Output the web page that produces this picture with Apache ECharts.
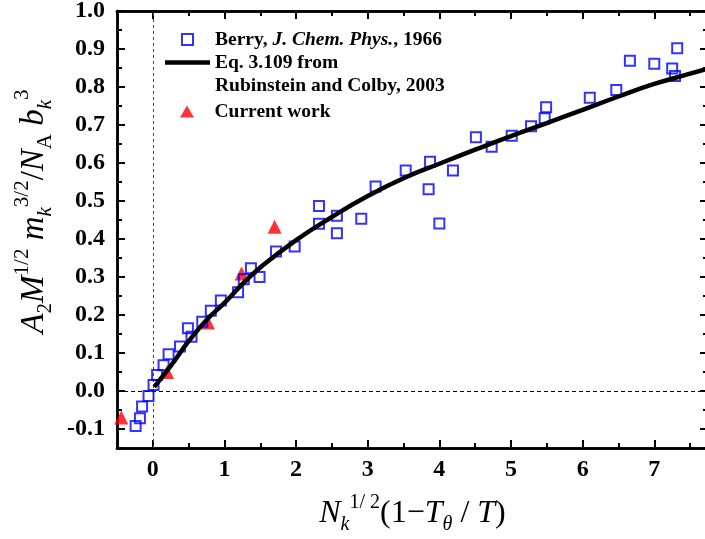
<!DOCTYPE html>
<html><head><meta charset="utf-8">
<script src="https://cdn.jsdelivr.net/npm/echarts@6/dist/echarts.min.js"></script>
<style>html,body{margin:0;padding:0;background:#fff}#c{width:705px;height:539px}</style>
</head><body><div id="c"></div>
<script>
const berryX = [-0.24,-0.18,-0.15,-0.06,0.01,0.06,0.15,0.22,0.38,0.49,0.54,0.69,0.81,0.95,1.19,1.27,1.37,1.49,1.72,1.98,2.32,2.32,2.57,2.57,2.91,3.11,3.53,3.87,3.85,4.00,4.19,4.51,4.73,5.01,5.28,5.47,5.49,6.10,6.47,6.66,7.00,7.25,7.29,7.32];
const berryY = [-0.092,-0.072,-0.041,-0.013,0.016,0.042,0.068,0.097,0.117,0.165,0.143,0.182,0.211,0.238,0.260,0.294,0.323,0.300,0.367,0.380,0.487,0.440,0.461,0.415,0.453,0.538,0.580,0.603,0.531,0.441,0.580,0.668,0.643,0.672,0.697,0.718,0.747,0.772,0.792,0.869,0.861,0.849,0.829,0.902];
const curveX = [0.02,0.25,0.5,0.75,1.0,1.25,1.5,2.0,2.5,3.0,3.5,4.0,4.5,5.0,5.5,6.0,6.5,7.0,7.5,7.75];
const curveY = [0.011,0.066,0.131,0.187,0.232,0.281,0.325,0.397,0.458,0.513,0.560,0.598,0.635,0.671,0.705,0.740,0.775,0.808,0.835,0.849];
const workX = [-0.44,0.20,0.77,1.24,1.70];
const workY = [-0.070,0.050,0.180,0.309,0.432];
const xMajorTicks = [0,1,2,3,4,5,6,7];
const xMinorTicks = [-0.5,0.5,1.5,2.5,3.5,4.5,5.5,6.5,7.5];
const yMajorTicks = [-0.1,0,0.1,0.2,0.3,0.4,0.5,0.6,0.7,0.8,0.9,1.0];
const yMinorTicks = [-0.15,-0.05,0.05,0.15,0.25,0.35,0.45,0.55,0.65,0.75,0.85,0.95];
const seriesNames = ['Berry, J. Chem. Phys., 1966','Eq. 3.109 from Rubinstein and Colby, 2003','Current work'];

const FF = "'Liberation Serif','Times New Roman',serif";
const zip = (a,b) => a.map((v,i)=>[v,b[i]]);

function xAx(pos, ticks, len, labels){
  return {type:'value', gridIndex:0, position:pos, min:-0.5, max:7.75,
    axisLine:{show:true,onZero:false,lineStyle:{color:'#000',width:2.5}},
    axisTick:{show:true,inside:true,length:len,customValues:ticks,lineStyle:{color:'#000',width:2}},
    axisLabel: labels ? {show:true,customValues:xMajorTicks,color:'#000',fontFamily:FF,fontWeight:'bold',fontSize:24,margin:10,formatter:v=>String(Math.round(v))} : {show:false},
    splitLine:{show:false}};
}
function yAx(pos, ticks, len, labels){
  return {type:'value', gridIndex:0, position:pos, min:-0.15, max:1.0,
    axisLine:{show:true,onZero:false,lineStyle:{color:'#000',width:2.5}},
    axisTick:{show:true,inside:true,length:len,customValues:ticks,lineStyle:{color:'#000',width:2}},
    axisLabel: labels ? {show:true,customValues:yMajorTicks,color:'#000',fontFamily:FF,fontWeight:'bold',fontSize:24,margin:12,formatter:v=>v.toFixed(1)} : {show:false},
    splitLine:{show:false}};
}

const xAxes = [xAx('bottom',xMajorTicks,8,true), xAx('bottom',xMinorTicks,5,false), xAx('top',xMajorTicks,8,false), xAx('top',xMinorTicks,5,false)];
const yAxes = [yAx('left',yMajorTicks,8,true), yAx('left',yMinorTicks,5,false), yAx('right',yMajorTicks,8,false), yAx('right',yMinorTicks,5,false)];

xAxes[0].name = '{i|N}{subi|k}{sup|1/ 2}{n|(1−}{i|T}{subi|θ}{n| / }{i|T}{n|)}';
xAxes[0].nameLocation = 'middle';
xAxes[0].nameGap = 45;
xAxes[0].nameTextStyle = {color:'#000',fontFamily:FF,fontSize:32,lineHeight:42,
  rich:{
    i:{fontFamily:FF,fontStyle:'italic',fontSize:32,lineHeight:42,color:'#000'},
    n:{fontFamily:FF,fontSize:32,lineHeight:42,color:'#000'},
    sup:{fontFamily:FF,fontSize:20,lineHeight:20,verticalAlign:'top',color:'#000'},
    subi:{fontFamily:FF,fontStyle:'italic',fontSize:20,lineHeight:20,verticalAlign:'bottom',color:'#000'}
  }};

yAxes[0].name = '{i|A}{sub|2}{i|M}{sup|1/2}{i| m}{subi|k}{sup|3/2}{n|/}{i|N}{sub|A}{i| b}{subi|k}{sup|3}';
yAxes[0].nameLocation = 'middle';
yAxes[0].nameGap = 58;
yAxes[0].nameTextStyle = {color:'#000',fontFamily:FF,fontSize:33,lineHeight:44,padding:[0,0,0,36],
  rich:{
    i:{fontFamily:FF,fontStyle:'italic',fontSize:33,lineHeight:44,color:'#000'},
    n:{fontFamily:FF,fontSize:33,lineHeight:44,color:'#000'},
    sup:{fontFamily:FF,fontSize:21,lineHeight:20,verticalAlign:'top',color:'#000'},
    sub:{fontFamily:FF,fontSize:21,lineHeight:20,verticalAlign:'bottom',color:'#000'},
    subi:{fontFamily:FF,fontStyle:'italic',fontSize:21,lineHeight:20,verticalAlign:'bottom',color:'#000'}
  }};

const legendText = {color:'#000',fontFamily:FF,fontWeight:'bold',fontSize:19.5,lineHeight:23,
  rich:{it:{color:'#000',fontFamily:FF,fontWeight:'bold',fontStyle:'italic',fontSize:19.5,lineHeight:23}}};

const option = {
  animation:false,
  backgroundColor:'#fff',
  grid:{left:117, top:11, width:591, height:437, containLabel:false, outerBoundsMode:'none'},
  xAxis:xAxes,
  yAxis:yAxes,
  legend:[
    {data:[
       {name:seriesNames[0], icon:'path://M0,0L10,0L10,10L0,10Z',
        itemStyle:{color:'rgba(255,255,255,0)',borderColor:'#0000ff',borderWidth:2}},
       {name:seriesNames[1], icon:'path://M0,0L45,0L45,4.5L0,4.5Z',
        itemStyle:{color:'#000',borderWidth:0}}],
     orient:'vertical', left:165, top:28, padding:0, itemGap:0, symbolKeepAspect:true,
     itemWidth:45, itemHeight:11, selectedMode:false, textStyle:legendText,
     formatter:n => n.startsWith('Berry') ? 'Berry, {it|J. Chem. Phys.}, 1966' : 'Eq. 3.109 from'},
    {data:[{name:seriesNames[2], icon:'path://M7,0L14,12L0,12Z', itemStyle:{color:'#ff0000',borderWidth:0}}],
     orient:'vertical', left:180, top:100, padding:0, symbolKeepAspect:true,
     itemWidth:45, itemHeight:12, selectedMode:false, textStyle:legendText}
  ],
  graphic:[
    {type:'text', left:215, top:76, style:{text:'Rubinstein and Colby, 2003', font:"bold 19.5px 'Liberation Serif'", fill:'#000'}}
  ],
  series:[
    {name:seriesNames[2], type:'scatter', xAxisIndex:0, yAxisIndex:0, z:2, symbol:'triangle', symbolSize:14,
     itemStyle:{color:'#ff0000'}, data:zip(workX,workY),
     markLine:{silent:true, symbol:'none', label:{show:false}, z:1,
       data:[
         {yAxis:0, lineStyle:{color:'#000',type:[4,3],width:1}},
         {xAxis:0, lineStyle:{color:'#444',type:[3,3],width:1}}
       ]}},
    {name:seriesNames[0], type:'scatter', xAxisIndex:0, yAxisIndex:0, z:3, symbol:'rect', symbolSize:10,
     itemStyle:{color:'rgba(255,255,255,0)', borderColor:'#0000ff', borderWidth:2}, data:zip(berryX,berryY)},
    {name:seriesNames[1], type:'line', xAxisIndex:0, yAxisIndex:0, z:4, smooth:true, showSymbol:false, symbol:'none',
     lineStyle:{color:'#000', width:4.5}, itemStyle:{color:'#000'}, data:zip(curveX,curveY)}
  ]
};
const chart = echarts.init(document.getElementById('c'), null, {renderer:'canvas'});
chart.setOption(option);
</script></body></html>
